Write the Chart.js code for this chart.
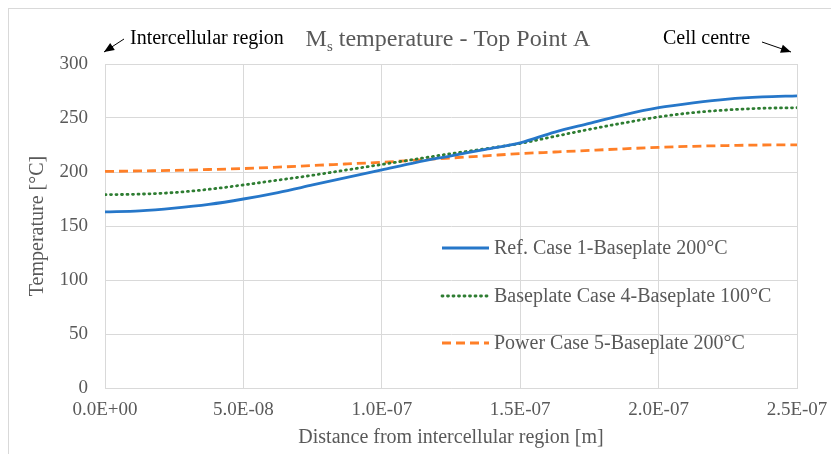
<!DOCTYPE html>
<html>
<head>
<meta charset="utf-8">
<script src="https://cdn.jsdelivr.net/npm/chart.js@4"></script>
<style>
  html, body { margin: 0; padding: 0; background: #fff; }
  #wrap { width: 831px; height: 454px; position: relative; }
</style>
</head>
<body>
<div id="wrap"><canvas id="myChart"></canvas></div>
<script>
// distance from intercellular region [m]
const distances = [0, 1.25e-8, 2.5e-8, 3.75e-8, 5e-8, 6.25e-8, 7.5e-8, 8.75e-8, 1e-7,
  1.125e-7, 1.25e-7, 1.375e-7, 1.5e-7, 1.625e-7, 1.75e-7, 1.875e-7, 2e-7,
  2.125e-7, 2.25e-7, 2.375e-7, 2.5e-7];
const refCase1 = [163, 164, 166.5, 170, 175, 181, 188, 195, 202, 209, 215, 221, 227,
  237, 245, 253, 259.5, 264, 267.5, 269.5, 270.5];
const baseplateCase4 = [179, 179.5, 181, 184, 188, 192.5, 197, 202, 207, 212, 217, 221.5,
  226.5, 233, 239.5, 245.5, 251, 255, 257.5, 259, 259.5];
const powerCase5 = [200.5, 201, 201.5, 202.3, 203.2, 204.5, 206, 207.5, 209, 211, 213,
  215, 217, 218.5, 220, 221.5, 222.8, 223.8, 224.5, 225, 225.2];
const seriesNames = ["Ref. Case 1-Baseplate 200°C", "Baseplate Case 4-Baseplate 100°C",
  "Power Case 5-Baseplate 200°C"];
const yTicks = [0, 50, 100, 150, 200, 250, 300];

const FONT = "'Liberation Serif', 'Times New Roman', serif";
const GREY = "#595959";

const toPoints = (ys) => distances.map((x, i) => ({ x: x, y: ys[i] }));

// format like Excel: 5.0E-08
const sci = (v) => {
  const s = Number(v).toExponential(1).split("e");
  let exp = parseInt(s[1], 10);
  const sign = exp < 0 ? "-" : "+";
  exp = Math.abs(exp);
  return s[0] + "E" + sign + (exp < 10 ? "0" + exp : exp);
};

// title, border, notes and legend drawn on top
const extras = {
  id: "extras",
  afterDraw(chart) {
    const c = chart.ctx;
    c.save();
    // outer border
    c.strokeStyle = "#d9d9d9";
    c.lineWidth = 1;
    c.strokeRect(8.5, 8.5, 840, 470);

    // title with subscript
    c.fillStyle = GREY;
    c.textBaseline = "alphabetic";
    const t1 = "M", t2 = "s", t3 = " temperature - Top Point A";
    c.font = "24px " + FONT;
    const w1 = c.measureText(t1).width;
    const w3 = c.measureText(t3).width;
    c.font = "15px " + FONT;
    const w2 = c.measureText(t2).width;
    let x = 448 - (w1 + w2 + w3) / 2;
    c.font = "24px " + FONT;
    c.fillText(t1, x, 46);
    c.font = "15px " + FONT;
    c.fillText(t2, x + w1, 51);
    c.font = "24px " + FONT;
    c.fillText(t3, x + w1 + w2, 46);

    // side notes with arrows
    c.fillStyle = "#000";
    c.font = "20px " + FONT;
    c.fillText("Intercellular region", 130, 44);
    c.fillText("Cell centre", 663, 44);
    const arrow = (x1, y1, x2, y2) => {
      c.strokeStyle = "#000";
      c.lineWidth = 1;
      c.beginPath();
      c.moveTo(x1, y1);
      c.lineTo(x2, y2);
      c.stroke();
      const a = Math.atan2(y2 - y1, x2 - x1);
      c.beginPath();
      c.moveTo(x2, y2);
      c.lineTo(x2 - 11 * Math.cos(a - 0.4), y2 - 11 * Math.sin(a - 0.4));
      c.lineTo(x2 - 11 * Math.cos(a + 0.4), y2 - 11 * Math.sin(a + 0.4));
      c.closePath();
      c.fill();
    };
    arrow(124, 39, 104, 52);
    arrow(762, 42, 791, 52);

    // legend inside the plot
    const ds = chart.data.datasets;
    const rows = [248, 296, 343];
    c.font = "20px " + FONT;
    c.textBaseline = "middle";
    ds.forEach((d, i) => {
      c.strokeStyle = d.borderColor;
      c.lineWidth = d.borderWidth;
      c.setLineDash(d.borderDash || []);
      c.lineCap = d.borderCapStyle || "butt";
      c.beginPath();
      c.moveTo(442, rows[i]);
      c.lineTo(489, rows[i]);
      c.stroke();
      c.setLineDash([]);
      c.fillStyle = GREY;
      c.fillText(seriesNames[i], 494, rows[i] + 1);
    });
    c.restore();
  },
};

new Chart(document.getElementById("myChart"), {
  type: "line",
  data: {
    datasets: [
      {
        label: seriesNames[0],
        data: toPoints(refCase1),
        borderColor: "#2677c9",
        borderWidth: 2.8,
        pointRadius: 0,
        cubicInterpolationMode: "monotone",
      },
      {
        label: seriesNames[1],
        data: toPoints(baseplateCase4),
        borderColor: "#2e7d32",
        borderWidth: 2.8,
        borderDash: [1, 4.5],
        borderCapStyle: "round",
        pointRadius: 0,
        cubicInterpolationMode: "monotone",
      },
      {
        label: seriesNames[2],
        data: toPoints(powerCase5),
        borderColor: "#ff7f27",
        borderWidth: 2.8,
        borderDash: [9, 5],
        pointRadius: 0,
        cubicInterpolationMode: "monotone",
      },
    ],
  },
  options: {
    responsive: true,
    maintainAspectRatio: false,
    animation: false,
    layout: { padding: { top: 64, right: 34, left: 10, bottom: 4 } },
    plugins: {
      legend: { display: false },
      tooltip: { enabled: false },
    },
    scales: {
      x: {
        type: "linear",
        min: 0,
        max: 2.5e-7,
        afterFit: (s) => {
          s.height = 62;
          s.paddingLeft = 0;
          s.paddingRight = 0;
        },
        ticks: {
          stepSize: 5e-8,
          callback: (v) => sci(v),
          color: GREY,
          font: { family: FONT, size: 19 },
          maxRotation: 0,
          padding: 11,
        },
        grid: { color: "#d9d9d9", drawTicks: false },
        border: { color: "#d9d9d9" },
        title: {
          display: true,
          text: "Distance from intercellular region [m]",
          color: GREY,
          font: { family: FONT, size: 20 },
          padding: { top: 0, bottom: 0 },
        },
      },
      y: {
        min: 0,
        max: 300,
        afterFit: (s) => {
          s.width = 95;
          s.paddingTop = 0;
          s.paddingBottom = 0;
        },
        afterBuildTicks: (axis) => {
          axis.ticks = yTicks.map((v) => ({ value: v }));
        },
        ticks: {
          color: GREY,
          font: { family: FONT, size: 19 },
          padding: 17,
        },
        grid: { color: "#d9d9d9", drawTicks: false },
        border: { color: "#d9d9d9" },
        title: {
          display: true,
          text: "Temperature [°C]",
          color: GREY,
          font: { family: FONT, size: 20 },
          padding: { top: 16, bottom: 0 },
        },
      },
    },
  },
  plugins: [extras],
});
</script>
</body>
</html>
